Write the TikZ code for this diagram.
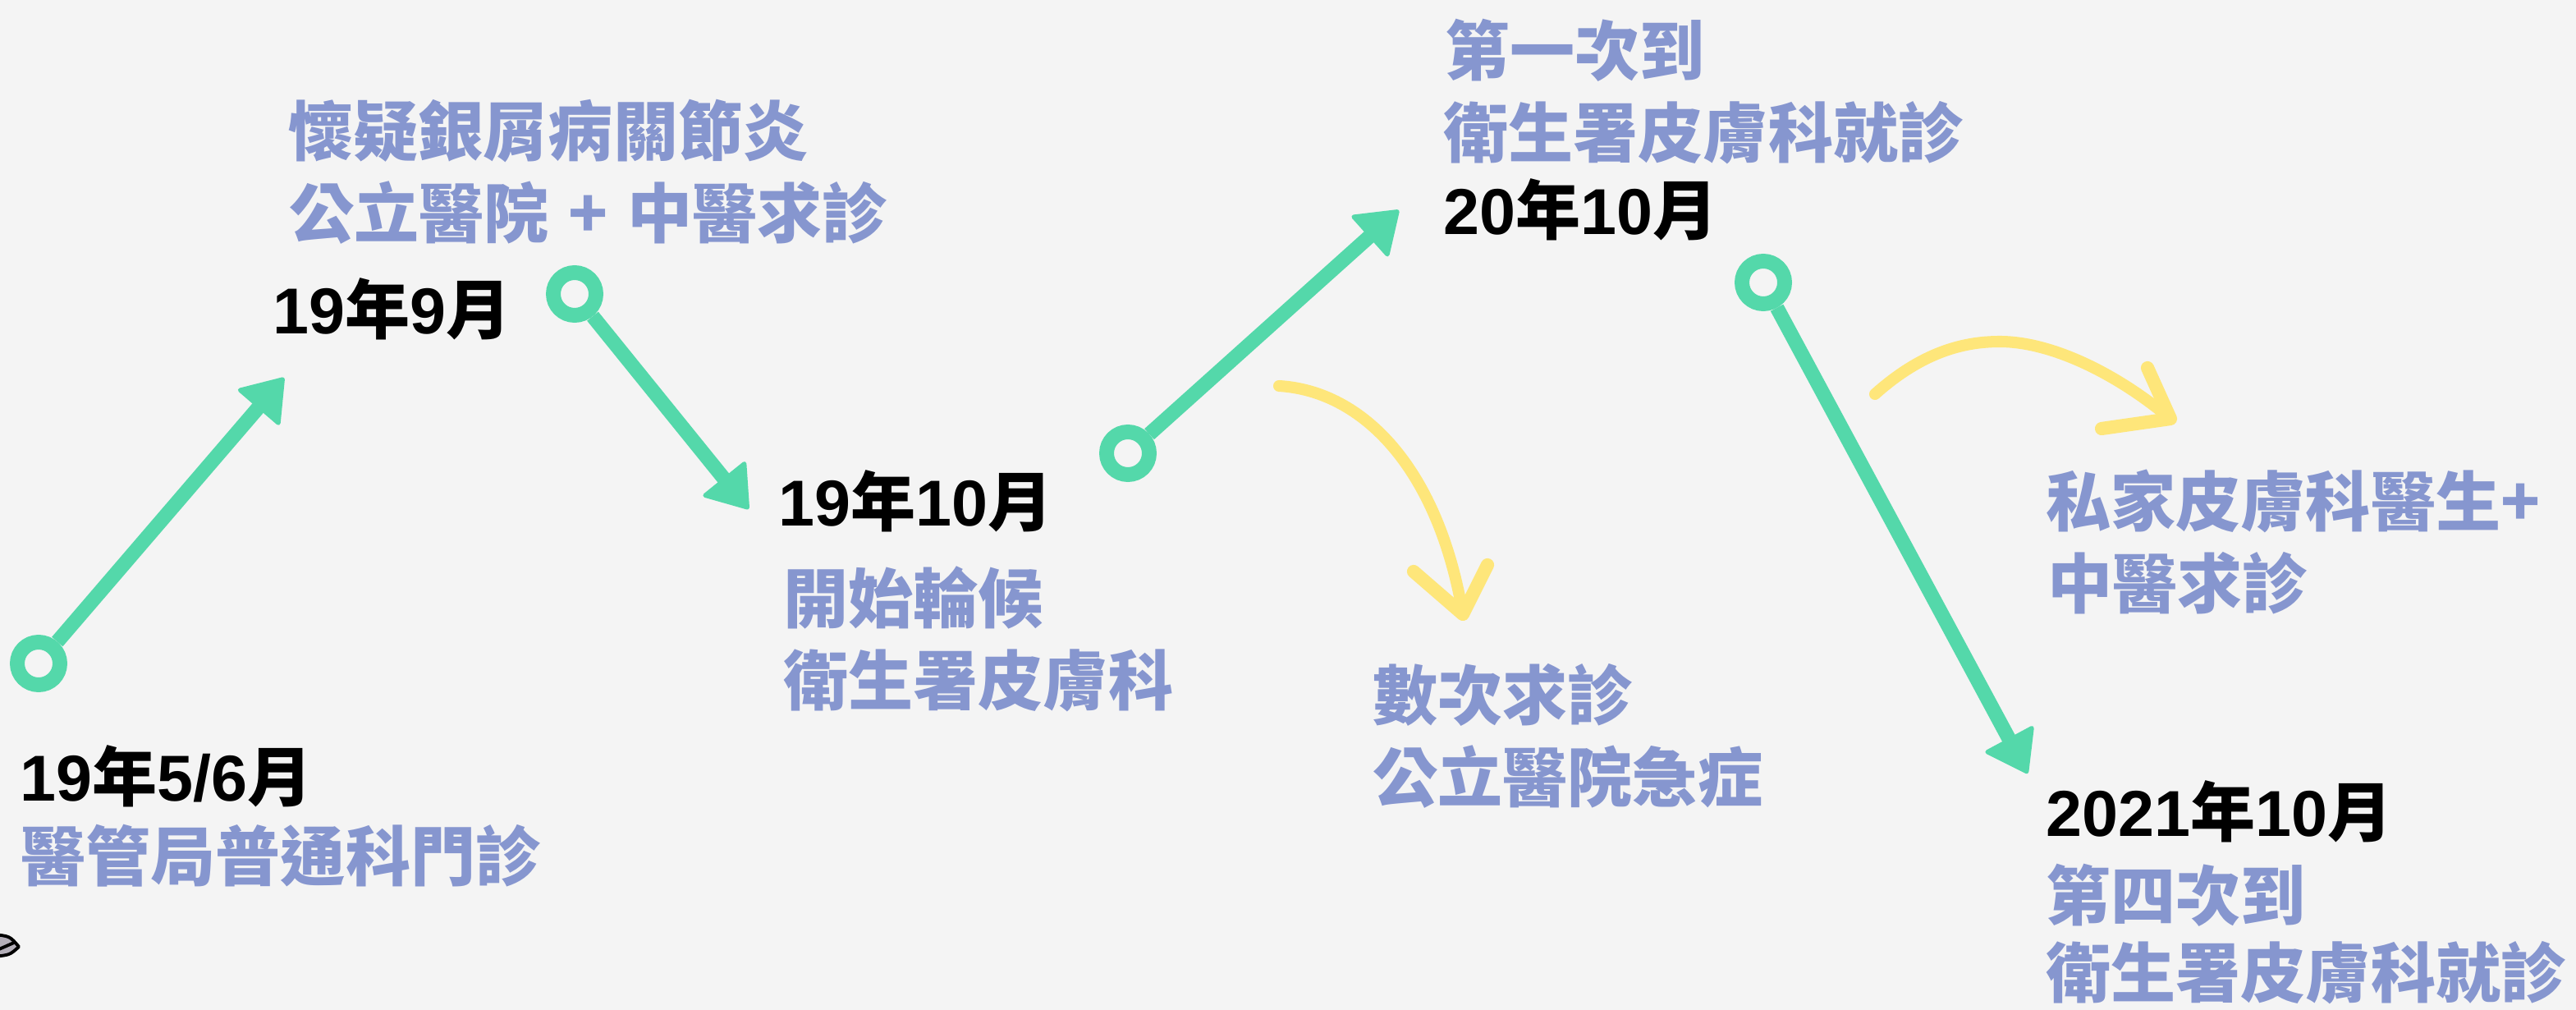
\documentclass[tikz,border=0pt]{standalone}
\usepackage{fontspec}
\usetikzlibrary{arrows.meta}
\newfontfamily\cjk{Noto Sans CJK TC}
\newfontfamily\lat{Liberation Sans}
\newcommand\D[1]{{\lat\bfseries #1}}
\definecolor{bg}{HTML}{F4F4F4}
\definecolor{grn}{HTML}{54D8AA}
\definecolor{ylw}{HTML}{FEE67A}
\definecolor{lav}{HTML}{8696CF}
\definecolor{leafgray}{HTML}{B4AFB9}
\tikzset{
  ring/.style={circle, draw=grn, line width=5.1pt, minimum size=14.8pt, inner sep=0pt, fill=bg},
  garrow/.style={draw=grn, line width=5pt, -{Triangle[length=14.5pt,width=20pt,round,line width=1.5pt]}},
  ystroke/.style={draw=ylw, line width=4pt, line cap=round},
  yarm/.style={draw=ylw, line width=4.6pt, line cap=round, line join=round},
  lavtxt/.style={anchor=base west, inner sep=0pt, text=lav, font=\cjk\bfseries\fontsize{22.5pt}{27pt}\selectfont},
  datetxt/.style={anchor=base west, inner sep=0pt, text=black, font=\cjk\bfseries\fontsize{22.5pt}{27pt}\selectfont},
  leaf/.style={draw=black, line width=1.1pt, fill=leafgray, line join=round}
}
\begin{document}
\begin{tikzpicture}[x=0.02cm,y=-0.02cm]
\useasboundingbox (0,0) rectangle (1569,615);
\fill[bg] (0,0) rectangle (1569,615);
\begin{scope}
  \clip (0,0) rectangle (1569,615);
  \draw[leaf] (-4,569) .. controls (6,570) .. (11.5,576.5) .. controls (6,581.5) .. (-4,582.5) -- cycle;
  \draw[black, line width=1.1pt] (-4,579.5) -- (8.5,574);
\end{scope}

% rings
\node[ring] (r1) at (23.5,404) {};
\node[ring] (r2) at (350,179) {};
\node[ring] (r3) at (687,276) {};
\node[ring] (r4) at (1074,172) {};
\coordinate (t1) at (173,230);
\coordinate (t2) at (456,310);
\coordinate (t3) at (852,128);
\coordinate (t4) at (1235,471);
\draw[garrow] (r1) -- (t1);
\draw[garrow] (r2) -- (t2);
\draw[garrow] (r3) -- (t3);
\draw[garrow] (r4) -- (t4);

% yellow arrows
\coordinate (y1s) at (779,235);
\coordinate (y1e) at (891,374);
\coordinate (y1l) at (861,348);
\coordinate (y1r) at (906,344);
\draw[ystroke] (y1s) .. controls (830,238) and (876,285) .. (y1e);
\draw[yarm] (y1l) -- (y1e) -- (y1r);

\coordinate (y2s) at (1142,240);
\coordinate (y2m) at (1218,208);
\coordinate (y2e) at (1322,255);
\coordinate (y2l) at (1280,261);
\coordinate (y2r) at (1308,224);
\draw[ystroke] (y2s) .. controls (1170,215) and (1195,208) .. (y2m) .. controls (1250,208) and (1290,228) .. (y2e);
\draw[yarm] (y2l) -- (y2e) -- (y2r);

% texts
\node[datetxt] (d1) at (12,487.5) {\D{19}年\D{5/6}月};
\node[lavtxt] (l1) at (12.5,536) {醫管局普通科門診};

\node[lavtxt] (l2a) at (175.5,95) {懷疑銀屑病關節炎};
\node[lavtxt] (l2b) at (176,145) {公立醫院\hspace{0.3em}+\hspace{0.3em}中醫求診};
\node[datetxt] (d2) at (166,203) {\D{19}年\D{9}月};

\node[datetxt] (d3) at (474,320) {\D{19}年\D{10}月};
\node[lavtxt] (l3a) at (477,379) {開始輪候};
\node[lavtxt] (l3b) at (477,429) {衛生署皮膚科};

\node[lavtxt] (l4a) at (880,46) {第一次到};
\node[lavtxt] (l4b) at (879,96) {衛生署皮膚科就診};
\node[datetxt] (d4) at (879,143) {\D{20}年\D{10}月};

\node[lavtxt] (l5a) at (836,438) {數次求診};
\node[lavtxt] (l5b) at (836,488) {公立醫院急症};

\node[lavtxt] (l6a) at (1246,320) {私家皮膚科醫生+};
\node[lavtxt] (l6b) at (1247,370) {中醫求診};

\node[datetxt] (d7) at (1246,509) {\D{2021}年\D{10}月};
\node[lavtxt] (l7a) at (1246,560) {第四次到};
\node[lavtxt] (l7b) at (1246,607) {衛生署皮膚科就診};
\end{tikzpicture}
\end{document}
